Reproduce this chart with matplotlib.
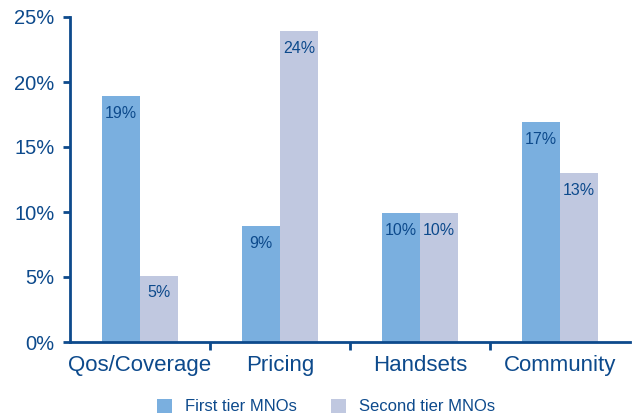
import matplotlib.pyplot as plt
import numpy as np

categories = ["Qos/Coverage", "Pricing", "Handsets", "Community"]
first_tier = [18.9, 8.9, 9.9, 16.9]
second_tier = [5.1, 23.9, 9.9, 13.0]
first_labels = ["19%", "9%", "10%", "17%"]
second_labels = ["5%", "24%", "10%", "13%"]
y_ticks = [0, 5, 10, 15, 20, 25]
y_tick_labels = ["0%", "5%", "10%", "15%", "20%", "25%"]

azul = "#0d4a8c"
color1 = "#7aafdf"
color2 = "#c0c8e0"

plt.rcParams['font.family'] = ['Liberation Sans', 'DejaVu Sans']

fig = plt.figure(figsize=(6.33, 4.19), dpi=100)
ax = fig.add_axes([70 / 633, 77 / 419, 560 / 633, 325 / 419])

x = np.arange(len(categories))
ancho = 0.27
b1 = ax.bar(x - ancho / 2, first_tier, ancho, color=color1, label="First tier MNOs")
b2 = ax.bar(x + ancho / 2, second_tier, ancho, color=color2, label="Second tier MNOs")

# etiquetas dentro de las barras
for barras, etiquetas in [(b1, first_labels), (b2, second_labels)]:
    for b, t in zip(barras, etiquetas):
        ax.text(b.get_x() + b.get_width() / 2, b.get_height() - 0.75, t,
                ha="center", va="top", fontsize=11.5, color=azul)

ax.set_xlim(-0.5, 3.5)
ax.set_ylim(0, 25)
ax.set_yticks(y_ticks)
ax.set_yticklabels(y_tick_labels, fontsize=14.5, color=azul)
ax.set_xticks(x)
ax.set_xticklabels(categories, fontsize=16, color=azul)
ax.set_xticks([0.5, 1.5, 2.5], minor=True)
ax.tick_params(axis="x", which="major", length=0, pad=9)
ax.tick_params(axis="x", which="minor", length=6, width=2, color=azul, direction="out")
ax.tick_params(axis="y", length=5, width=2, color=azul, pad=6)

for s in ["top", "right"]:
    ax.spines[s].set_visible(False)
for s in ["left", "bottom"]:
    ax.spines[s].set_color(azul)
    ax.spines[s].set_linewidth(2)

ley = fig.legend(loc="lower center", bbox_to_anchor=(0.515, -0.025), ncol=2, frameon=False,
                 fontsize=12, handlelength=0.9, handleheight=0.9, columnspacing=2.0,
                 handletextpad=0.8)
for t in ley.get_texts():
    t.set_color(azul)

fig.savefig("out.png", dpi=100)
